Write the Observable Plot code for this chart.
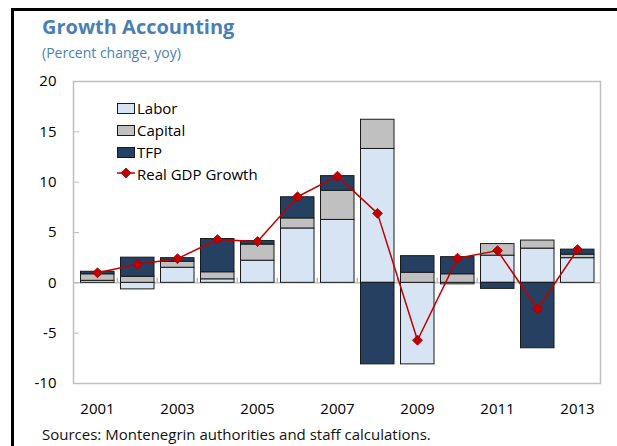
<!DOCTYPE html>
<html><head><meta charset="utf-8">
<script src="https://cdn.jsdelivr.net/npm/d3@7"></script>
<script src="https://cdn.jsdelivr.net/npm/@observablehq/plot@0.6"></script>
<style>
html,body{margin:0;padding:0;background:#fff;}
body{width:617px;height:446px;overflow:hidden;position:relative;font-family:"Open Sans",sans-serif;color:#000;}
#border{position:absolute;left:11px;top:8px;width:700px;height:500px;border-left:3px solid #000;border-top:3px solid #000;}
.t{position:absolute;white-space:nowrap;line-height:1;}
#title{left:42px;top:17px;font-size:20px;font-weight:700;color:#4a7fb5;}
#subtitle{left:42px;top:46px;font-size:14px;color:#4a7fb5;}
#caption{left:42px;top:427px;font-size:15px;color:#111;}
#chart{position:absolute;left:0;top:64px;}
.leg{position:absolute;left:117px;font-size:15px;line-height:1;white-space:nowrap;}
.sw{position:absolute;left:0;width:16px;height:9px;border:1px solid #1a1a1a;}
.lt{position:absolute;left:20px;}
</style></head>
<body>
<div id="border"></div>
<div class="t" id="title">Growth Accounting</div>
<div class="t" id="subtitle">(Percent change, yoy)</div>
<div id="chart"></div>
<div id="legend"></div>
<div class="t" id="caption">Sources: Montenegrin authorities and staff calculations.</div>
<script>
const years   = [2001,2002,2003,2004,2005,2006,2007,2008,2009,2010,2011,2012,2013];
const labor   = [0.2,-0.65,1.5,0.35,2.2,5.4,6.25,13.3,-8.1,-0.15,2.7,3.4,2.45];
const capital = [0.65,0.6,0.6,0.7,1.6,1.0,2.9,2.9,1.0,0.85,1.15,0.8,0.35];
const tfp     = [0.25,1.9,0.35,3.3,0.35,2.1,1.45,-8.1,1.65,1.7,-0.6,-6.5,0.5];
const gdp     = [1.0,1.85,2.4,4.3,4.1,8.55,10.6,6.9,-5.7,2.45,3.2,-2.6,3.3];
const seriesNames = ["Labor","Capital","TFP"];
const seriesColors = ["#d7e4f4","#c0c0c0","#254061"];
const lineName = "Real GDP Growth";
const lineColor = "#c00000";
const yTicks = [-10,-5,0,5,10,15,20];
const xTickYears = [2001,2003,2005,2007,2009,2011,2013];

const rows = years.flatMap((year,i)=>[
  {year, series:"Labor", value:labor[i]},
  {year, series:"Capital", value:capital[i]},
  {year, series:"TFP", value:tfp[i]}
]);
const gdpRows = years.map((year,i)=>({year, value:gdp[i]}));

const W=617, H=360, mL=73, mR=17;
const bw=(W-mL-mR)/years.length;

const chart = Plot.plot({
  width:W, height:H, marginTop:17, marginBottom:41, marginLeft:mL, marginRight:mR,
  style:{fontFamily:"Open Sans, sans-serif", fontSize:"15px", color:"#000", background:"transparent"},
  x:{type:"band", domain:years, padding:0, axis:null, label:null},
  y:{domain:[-10,20], axis:null, label:null},
  color:{domain:seriesNames, range:seriesColors},
  marks:[
    Plot.frame({stroke:"#bfbfbf", strokeWidth:1.5}),
    Plot.ruleY([0], {stroke:"#bfbfbf", strokeWidth:1.5}),
    Plot.ruleX(years.slice(1), {x:d=>d, y1:0, y2:0.45, dx:-bw/2, stroke:"#bfbfbf", strokeWidth:1.5}),
    Plot.barY(rows, {x:"year", y:"value", fill:"series", z:"series", stroke:"#1a1a1a", strokeWidth:1, insetLeft:3.5, insetRight:3}),
    Plot.line(gdpRows, {x:"year", y:"value", stroke:lineColor, strokeWidth:1.5}),
    Plot.dot(gdpRows, {x:"year", y:"value", symbol:"diamond2", r:4.5, fill:lineColor, stroke:"#a00000", strokeWidth:0.8}),
    Plot.axisY({ticks:yTicks, tickSize:0, tickPadding:17, tickFormat:d=>String(d), fontSize:15, label:null}),
    Plot.axisY({ticks:[-5,0,5,10,15], tickSize:-6, tickFormat:()=>"", stroke:"#bfbfbf", label:null}),
    Plot.axisX({ticks:xTickYears, tickSize:0, tickPadding:20, tickFormat:d=>String(d), fontSize:15, label:null})
  ]
});
document.getElementById("chart").appendChild(chart);

// legend
const legend = document.getElementById("legend");
const rowTops = [101,123,145,167];
seriesNames.forEach((name,i)=>{
  const d=document.createElement("div");
  d.className="leg"; d.style.top=rowTops[i]+"px";
  d.innerHTML=`<span class="sw" style="top:2px;background:${seriesColors[i]}"></span><span class="lt">${name}</span>`;
  legend.appendChild(d);
});
{
  const d=document.createElement("div");
  d.className="leg"; d.style.top=rowTops[3]+"px";
  d.innerHTML=`<svg width="20" height="14" style="position:absolute;left:0;top:1px"><line x1="0" y1="5" x2="18" y2="5" stroke="${lineColor}" stroke-width="1.5"/><path d="M9,0L14,5L9,10L4,5Z" fill="${lineColor}" stroke="#a00000" stroke-width="0.8"/></svg><span class="lt">${lineName}</span>`;
  legend.appendChild(d);
}
</script>
</body></html>
